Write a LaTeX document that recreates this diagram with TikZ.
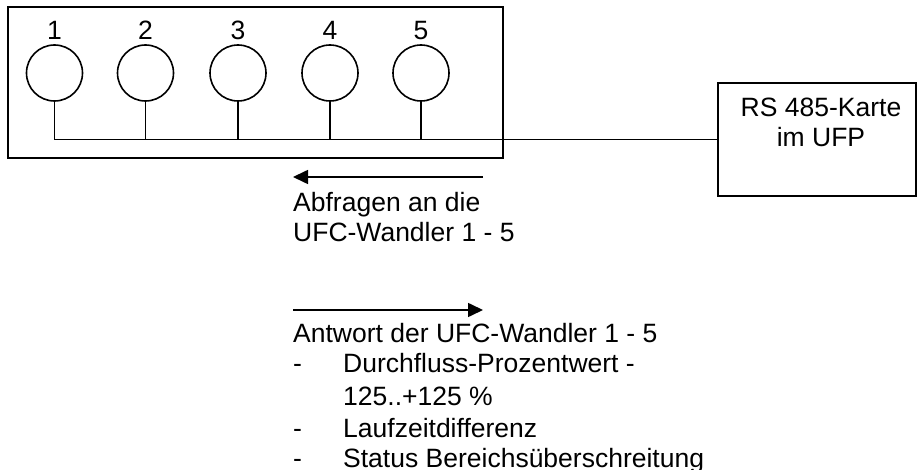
\documentclass[tikz,border=0pt]{standalone}
\usepackage{fontspec}
\setmainfont{Liberation Sans}
\usetikzlibrary{arrows.meta}
\begin{document}
\begin{tikzpicture}[x=1bp,y=-1bp,
  txt/.style={inner sep=0pt, font=\fontsize{26.5bp}{30bp}\selectfont},
  linetext/.style={txt, anchor=base west},
  frame/.style={draw, line width=1.6bp, inner sep=0pt},
  sensor/.style={draw, circle, line width=1.6bp, minimum size=56bp, inner sep=0pt},
  wire/.style={line width=1.4bp},
  flow/.style={line width=1.6bp, -{Triangle[length=15bp,width=14bp]}}]
\useasboundingbox (0,0) rectangle (917,470);

% housing with the five transducers
\node[frame, minimum width=495bp, minimum height=151bp] (housing) at (255.5,82.5) {};
\foreach \i/\x in {1/54.5,2/145.5,3/238,4/330,5/421}{
  \node[sensor] (c\i) at (\x,73) {};
  \node[txt, anchor=base] (n\i) at (\x,40) {\i};
}

% interface card
\node[frame, minimum width=198bp, minimum height=113bp] (rs) at (817,139.5) {};
\node[txt, anchor=base] (rs1) at (821,117) {RS 485-Karte};
\node[txt, anchor=base] (rs2) at (821,147) {im UFP};

% bus line
\coordinate (bus) at (0,139);
\draw[wire] (c1.south) |- (rs.west);
\foreach \i in {2,...,5}{
  \draw[wire] (c\i.south) -- (c\i.south |- bus);
}

% request direction
\coordinate (q1) at (483,177);
\coordinate (q2) at (293,177);
\draw[flow] (q1) -- (q2);
\node[linetext] (qa) at (293,212) {Abfragen an die};
\node[linetext] (qb) at (293,242) {UFC-Wandler 1 - 5};

% response direction
\coordinate (r1) at (293,310);
\coordinate (r2) at (483,310);
\draw[flow] (r1) -- (r2);
\node[linetext] (ra) at (293,343) {Antwort der UFC-Wandler 1 - 5};
\node[linetext] (d1) at (293,373) {-};
\node[linetext] (t1) at (343,373) {Durchfluss-Prozentwert -};
\node[linetext] (t1b) at (343,405) {125..+125 \%};
\node[linetext] (d2) at (293,437) {-};
\node[linetext] (t2) at (343,437) {Laufzeitdifferenz};
\node[linetext] (d3) at (293,467) {-};
\node[linetext] (t3) at (343,467) {Status Bereichsüberschreitung};
\end{tikzpicture}
\end{document}
